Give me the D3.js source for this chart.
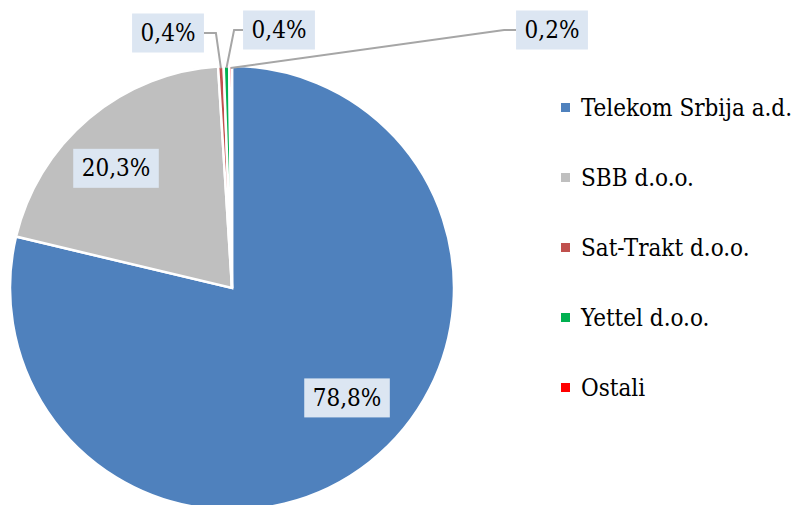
<html>
<meta charset="utf-8" />
<head>
<title>Udeo operatera</title>
<script src="https://cdn.jsdelivr.net/npm/d3@7/dist/d3.min.js"></script>
<style>
	body { margin: 0; background: #fff; }
	text { font-family: "DejaVu Serif Condensed", "DejaVu Serif", serif; font-stretch: condensed; }
</style>
</head>
<body>
<svg id="chart" width="797" height="505"></svg>
<script>
// chart data
const operators = ['Telekom Srbija a.d.', 'SBB d.o.o.', 'Sat-Trakt d.o.o.', 'Yettel d.o.o.', 'Ostali'];
const shares = [78.8, 20.3, 0.4, 0.4, 0.2];
const labels = ['78,8%', '20,3%', '0,4%', '0,4%', '0,2%'];
const colors = ['#4f81bd', '#bfbfbf', '#c0504d', '#00b050', '#ff0000'];

const svg = d3.select('#chart');
const cx = 232, cy = 288, radius = 222;
const fontSize = 24;

const data = operators.map((name, i) => ({ name: name, value: shares[i], label: labels[i], color: colors[i] }));

let pie = d3.pie().sort(null).value(d => d.value);
let arc = d3.arc().innerRadius(0).outerRadius(radius);
let arcs = pie(data);

let g = svg.append('g').attr('transform', `translate(${cx},${cy})`);

g.selectAll('path')
	.data(arcs)
	.enter()
	.append('path')
	.attr('d', arc)
	.style('fill', d => d.data.color)
	.style('stroke', '#fff')
	.style('stroke-width', '2.5px');

// inside labels for the two big slices
let innerArc = d3.arc().innerRadius(163).outerRadius(163);

function labelBox(parent, x, y, text) {
	let t = parent.append('text')
		.attr('x', x).attr('y', y)
		.attr('text-anchor', 'middle')
		.attr('dominant-baseline', 'central')
		.style('font-size', fontSize + 'px')
		.style('fill', '#000')
		.text(text);
	let w = t.node().getComputedTextLength() + 17;
	let h = 39;
	parent.insert('rect', () => t.node())
		.attr('x', x - w / 2).attr('y', y - h / 2)
		.attr('width', w).attr('height', h)
		.style('fill', '#dce6f2');
	return w;
}

arcs.slice(0, 2).forEach((d, i) => {
	let c = innerArc.centroid(d);
	// Excel-like nudge for the big labels
	let shift = i == 0 ? [14, -18] : [-11, 5];
	labelBox(g, c[0] + shift[0], c[1] + shift[1], d.data.label);
});

// outside labels for the small slices (box centre, relative to chart)
const outside = [
	{ x: 168 - cx, y: 33 - cy, side: 'left' },
	{ x: 279 - cx, y: 30 - cy, side: 'right' },
	{ x: 552 - cx, y: 30 - cy, side: 'right' }
];

arcs.slice(2).forEach((d, i) => {
	let pos = outside[i];
	let line = g.append('g');
	let w = labelBox(g, pos.x, pos.y, d.data.label);
	let a = (d.startAngle + d.endAngle) / 2;
	let p0 = [(radius - 2) * Math.sin(a), -(radius - 2) * Math.cos(a)];
	let edgeX = pos.side == 'left' ? pos.x + w / 2 : pos.x - w / 2;
	let elbowX = pos.side == 'left' ? edgeX + 12 : edgeX - 12;
	if (i == 1) elbowX = edgeX - 9;
	line.append('polyline')
		.attr('points', [p0, [elbowX, pos.y], [edgeX, pos.y]].map(p => p.join(',')).join(' '))
		.style('fill', 'none')
		.style('stroke', '#a6a6a6')
		.style('stroke-width', '2px');
});

// legend
let legend = svg.append('g').attr('transform', 'translate(561,108)');
let rows = legend.selectAll('g')
	.data(data)
	.enter()
	.append('g')
	.attr('transform', (d, i) => `translate(0,${i * 70})`);

rows.append('rect')
	.attr('x', 0).attr('y', -5)
	.attr('width', 9).attr('height', 9)
	.style('fill', d => d.color);

rows.append('text')
	.attr('x', 20).attr('y', 0)
	.attr('dominant-baseline', 'central')
	.style('font-size', fontSize + 'px')
	.style('fill', '#000')
	.text(d => d.name);
</script>
</body>
</html>
